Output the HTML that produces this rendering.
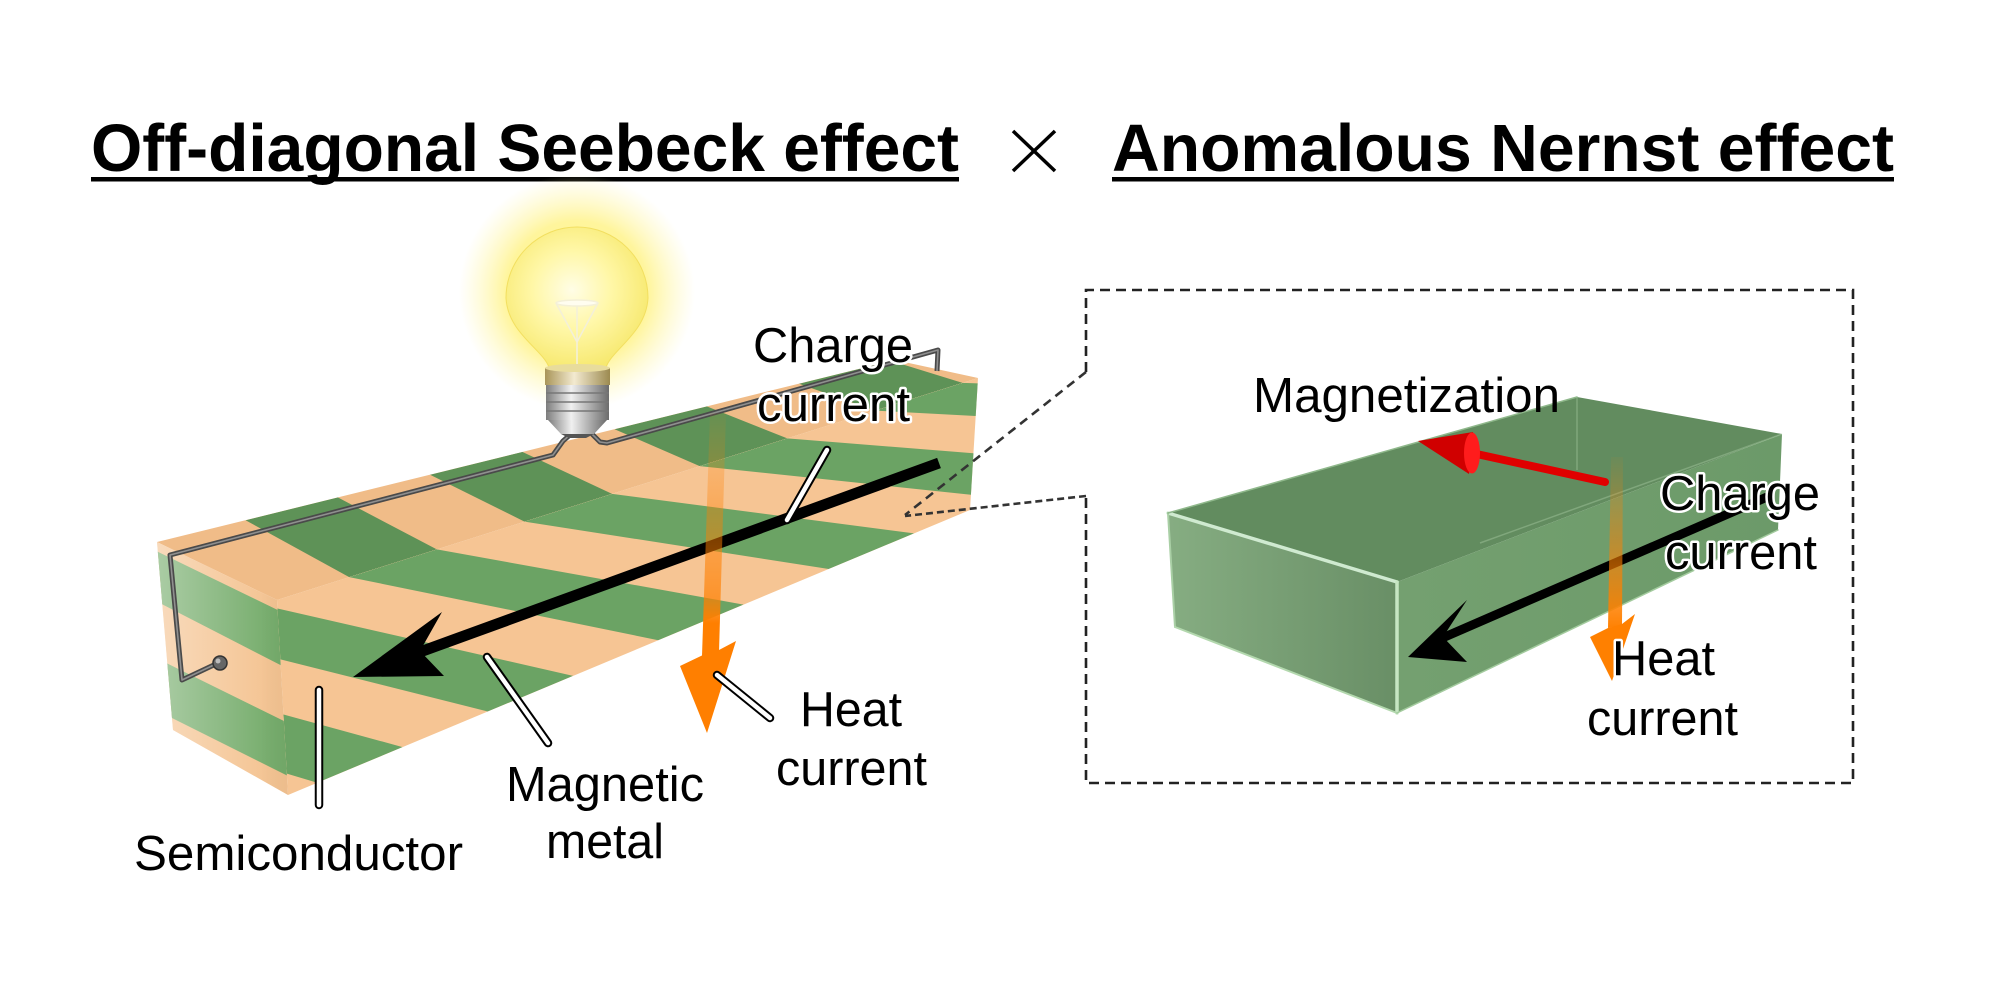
<!DOCTYPE html>
<html><head><meta charset="utf-8"><style>
html,body{margin:0;padding:0;background:#fff;}
body{width:2000px;height:1000px;overflow:hidden;}
svg{display:block;}
text{font-family:"Liberation Sans",Arial,sans-serif;fill:#000;}
.lbl{font-size:49px;}
.halo{paint-order:stroke;stroke:#fff;stroke-width:5px;stroke-linejoin:round;}
.ttl{font-size:67px;font-weight:bold;}
</style></head><body>
<svg width="2000" height="1000" viewBox="0 0 2000 1000" xmlns="http://www.w3.org/2000/svg">
<defs>
  <clipPath id="topc"><polygon points="157,542 895,360 978,378 277,600"/></clipPath>
  <clipPath id="frontc"><polygon points="277,600 978,378 970,510 288,795"/></clipPath>
  <clipPath id="endc"><polygon points="157,542 277,600 288,795 173,730"/></clipPath>
  <linearGradient id="endShade" gradientUnits="userSpaceOnUse" x1="160" y1="0" x2="285" y2="0">
    <stop offset="0" stop-color="#fff" stop-opacity="0.38"/>
    <stop offset="0.8" stop-color="#fff" stop-opacity="0.05"/>
    <stop offset="1" stop-color="#000" stop-opacity="0.03"/>
  </linearGradient>
  <radialGradient id="glow" cx="577" cy="292" r="118" gradientUnits="userSpaceOnUse">
    <stop offset="0" stop-color="#fff59a" stop-opacity="1"/>
    <stop offset="0.6" stop-color="#fff38a" stop-opacity="0.85"/>
    <stop offset="1" stop-color="#fff7b0" stop-opacity="0"/>
  </radialGradient>
  <radialGradient id="glass" cx="572" cy="290" r="80" gradientUnits="userSpaceOnUse">
    <stop offset="0" stop-color="#fffde6"/>
    <stop offset="0.5" stop-color="#fff7a6"/>
    <stop offset="1" stop-color="#f7e970"/>
  </radialGradient>
  <linearGradient id="gold" x1="0" y1="0" x2="1" y2="0">
    <stop offset="0" stop-color="#a99558"/>
    <stop offset="0.45" stop-color="#f3ead0"/>
    <stop offset="1" stop-color="#9c8a50"/>
  </linearGradient>
  <linearGradient id="silver" x1="0" y1="0" x2="1" y2="0">
    <stop offset="0" stop-color="#7d7d7d"/>
    <stop offset="0.4" stop-color="#f0f0f0"/>
    <stop offset="1" stop-color="#6c6c6c"/>
  </linearGradient>
  <linearGradient id="ogL" gradientUnits="userSpaceOnUse" x1="0" y1="413" x2="0" y2="660">
    <stop offset="0" stop-color="#ff7f00" stop-opacity="0.05"/>
    <stop offset="0.75" stop-color="#ff7f00" stop-opacity="0.7"/>
    <stop offset="0.85" stop-color="#ff7f00" stop-opacity="1"/>
    <stop offset="1" stop-color="#ff7f00" stop-opacity="1"/>
  </linearGradient>
  <linearGradient id="ogR" gradientUnits="userSpaceOnUse" x1="0" y1="457" x2="0" y2="630">
    <stop offset="0" stop-color="#ff8000" stop-opacity="0.05"/>
    <stop offset="0.7" stop-color="#ff8000" stop-opacity="0.7"/>
    <stop offset="1" stop-color="#ff8000" stop-opacity="1"/>
  </linearGradient>
  <linearGradient id="boxEnd" gradientUnits="userSpaceOnUse" x1="1168" y1="0" x2="1397" y2="0">
    <stop offset="0" stop-color="#86ad82"/>
    <stop offset="1" stop-color="#698f66"/>
  </linearGradient>
  <linearGradient id="boxSide" gradientUnits="userSpaceOnUse" x1="1397" y1="0" x2="1782" y2="0">
    <stop offset="0" stop-color="#74a070"/>
    <stop offset="1" stop-color="#6c9a69"/>
  </linearGradient>
</defs>

<!-- Title -->
<text class="ttl" x="91" y="171" textLength="868" lengthAdjust="spacingAndGlyphs">Off-diagonal Seebeck effect</text>
<rect x="91" y="177" width="868" height="4.5" fill="#000"/>
<line x1="1013" y1="131" x2="1055" y2="171" stroke="#000" stroke-width="3.5"/>
<line x1="1055" y1="131" x2="1013" y2="171" stroke="#000" stroke-width="3.5"/>
<text class="ttl" x="1112" y="171" textLength="782" lengthAdjust="spacingAndGlyphs">Anomalous Nernst effect</text>
<rect x="1112" y="177" width="782" height="4.5" fill="#000"/>

<!-- Bar: top face -->
<polygon points="157,542 895,360 978,378 277,600" fill="#f0bc88"/>
<g clip-path="url(#topc)" fill="#5e9257">
  <polygon points="245.6,520.2 337.8,497.4 436.8,549.4 349.2,577.1"/>
  <polygon points="430.1,474.7 522.3,451.9 612.1,493.9 524.5,521.6"/>
  <polygon points="614.6,429.2 706.8,406.4 787.3,438.4 699.7,466.1"/>
  <polygon points="799.1,383.7 891.3,360.9 962.6,382.9 875,410.6"/>
</g>
<!-- front face -->
<polygon points="277,600 978,378 970,510 288,795" fill="#f6c594"/>
<g clip-path="url(#frontc)" fill="#6ba364">
  <polygon points="-1.3,688.1 86.3,660.4 402.6,747.1 317.3,782.7"/>
  <polygon points="174,632.6 261.6,604.9 573.1,675.9 487.8,711.5"/>
  <polygon points="349.2,577.1 436.8,549.4 743.6,604.6 658.3,640.2"/>
  <polygon points="524.5,521.6 612.1,493.9 914.1,533.4 828.8,569"/>
  <polygon points="699.7,466.1 787.3,438.4 1084.6,462.1 999.3,497.7"/>
  <polygon points="875,410.6 962.6,382.9 1255.1,390.9 1169.8,426.5"/>
</g>
<!-- end face -->
<polygon points="157,542 277,600 288,795 173,730" fill="#f4c391"/>
<g clip-path="url(#endc)" fill="#75ac6b">
  <polygon points="150,548 290,616 292,671 150,598"/>
  <polygon points="150,655 290,724 292,778 150,707"/>
</g>
<polygon points="157,542 277,600 288,795 173,730" fill="url(#endShade)"/>

<!-- wire -->
<g fill="none" stroke-linejoin="round">
  <path d="M218,663 L182,680 L170,555 L553,455 L563,441 L571,434 M592,434 L600,442 L607,443 L913,357 L938,350 L937,371" stroke="#4a4a4a" stroke-width="5"/>
  <path d="M218,663 L182,680 L170,555 L553,455 L563,441 L571,434 M592,434 L600,442 L607,443 L913,357 L938,350 L937,371" stroke="#8f8f8f" stroke-width="1.6"/>
</g>
<circle cx="220" cy="663" r="7" fill="#666" stroke="#333" stroke-width="1.5"/>
<circle cx="218" cy="661" r="2.5" fill="#bbb"/>

<!-- bulb -->
<circle cx="577" cy="292" r="118" fill="url(#glow)"/>
<path d="M550,372 C549,352 508,336 506,298 A71,71 0 1 1 648,298 C646,336 606,352 605,372 Z" fill="url(#glass)" stroke="#f2df60" stroke-width="1"/>
<g stroke="#f4f0d8" stroke-width="1.6" fill="none">
  <ellipse cx="577" cy="303" rx="21" ry="3" fill="#fffdf0"/>
  <line x1="556" y1="303" x2="577" y2="342"/>
  <line x1="598" y1="303" x2="577" y2="342"/>
  <line x1="577" y1="306" x2="577" y2="370"/>
</g>
<rect x="545" y="368" width="65" height="17" fill="url(#gold)"/>
<ellipse cx="577.5" cy="368" rx="32.5" ry="4" fill="#e8dc9c"/>
<rect x="546" y="385" width="63" height="35" fill="url(#silver)"/>
<g stroke="#777" stroke-width="1.5">
  <line x1="546" y1="393" x2="609" y2="393"/>
  <line x1="546" y1="402" x2="609" y2="402"/>
  <line x1="546" y1="411" x2="609" y2="411"/>
</g>
<path d="M548,420 L607,420 L594,434 L561,434 Z" fill="url(#silver)"/>
<path d="M561,434 L594,434 L586,438 L569,438 Z" fill="#555"/>

<!-- black arrow left -->
<line x1="939" y1="463" x2="420" y2="652" stroke="#000" stroke-width="11"/>
<polygon points="353,677 442,612 420,651 444,676" fill="#000"/>

<!-- orange arrow left -->
<polygon points="710,413 726,413 719,652 702,656" fill="url(#ogL)"/>
<polygon points="680,666 703,655 719,650 736,641 707,733" fill="#ff7f00"/>

<!-- white pointers left -->
<g stroke-linecap="round">
  <line x1="827" y1="450" x2="787" y2="520" stroke="#000" stroke-width="8.5"/>
  <line x1="827" y1="450" x2="787" y2="520" stroke="#fff" stroke-width="4.5"/>
  <line x1="487" y1="657" x2="548" y2="743" stroke="#000" stroke-width="8.5"/>
  <line x1="487" y1="657" x2="548" y2="743" stroke="#fff" stroke-width="4.5"/>
  <line x1="319" y1="690" x2="319" y2="805" stroke="#000" stroke-width="8.5"/>
  <line x1="319" y1="690" x2="319" y2="805" stroke="#fff" stroke-width="4.5"/>
  <line x1="717" y1="675" x2="770" y2="718" stroke="#000" stroke-width="8.5"/>
  <line x1="717" y1="675" x2="770" y2="718" stroke="#fff" stroke-width="4.5"/>
</g>

<!-- left labels -->
<text class="lbl halo" x="753" y="362" textLength="160" lengthAdjust="spacingAndGlyphs">Charge</text>
<text class="lbl halo" x="757" y="421" textLength="153" lengthAdjust="spacingAndGlyphs">current</text>
<text class="lbl" x="800" y="726" textLength="102" lengthAdjust="spacingAndGlyphs">Heat</text>
<text class="lbl" x="776" y="785" textLength="151" lengthAdjust="spacingAndGlyphs">current</text>
<text class="lbl" x="506" y="801" textLength="198" lengthAdjust="spacingAndGlyphs">Magnetic</text>
<text class="lbl" x="546" y="858" textLength="118" lengthAdjust="spacingAndGlyphs">metal</text>
<text class="lbl" x="134" y="870" textLength="329" lengthAdjust="spacingAndGlyphs">Semiconductor</text>

<!-- dashed frame & connectors -->
<g fill="none" stroke="#222" stroke-width="2.6">
  <path d="M1086,372 L1086,290 L1853,290 L1853,783 L1086,783 L1086,495" stroke-dasharray="10 6"/>
  <path d="M1086,372 L905,515" stroke="#333" stroke-dasharray="9 6"/>
  <path d="M1086,496 L905,516" stroke="#333" stroke-dasharray="7 4"/>
</g>

<!-- right box -->
<polygon points="1168,513 1577,397 1782,434 1397,582" fill="#628c5f"/>
<polygon points="1397,582 1782,434 1778,530 1397,713" fill="url(#boxSide)"/>
<polygon points="1168,513 1397,582 1397,713 1175,627" fill="url(#boxEnd)"/>
<g fill="none" stroke-opacity="0.35" stroke="#b9dbb5" stroke-width="1.5">
  <line x1="1577" y1="397" x2="1577" y2="470"/>
  <line x1="1480" y1="543" x2="1782" y2="434"/>
</g>
<g fill="none" stroke-linecap="round">
  <line x1="1168" y1="513" x2="1397" y2="582" stroke="#cfead0" stroke-width="3.5"/>
  <line x1="1397" y1="582" x2="1397" y2="713" stroke="#c6e6c2" stroke-width="3.5"/>
  <line x1="1168" y1="513" x2="1175" y2="627" stroke="#a9cfa5" stroke-width="2"/>
  <line x1="1175" y1="627" x2="1397" y2="713" stroke="#b3d8ae" stroke-width="2"/>
  <line x1="1397" y1="713" x2="1778" y2="530" stroke="#a3cb9e" stroke-width="1.5"/>
  <line x1="1168" y1="513" x2="1577" y2="397" stroke="#8fb88b" stroke-width="1.5"/>
</g>

<!-- black arrow right -->
<line x1="1767" y1="497" x2="1440" y2="639" stroke="#000" stroke-width="9"/>
<polygon points="1408,657 1467,600 1443,637 1467,662" fill="#000"/>

<!-- red magnetization arrow -->
<line x1="1605" y1="482" x2="1472" y2="453" stroke="#e00000" stroke-width="8" stroke-linecap="round"/>
<polygon points="1418,441 1473,432 1469,474" fill="#d00000"/>
<ellipse cx="1472" cy="453" rx="8" ry="20.5" fill="#ff1c1c"/>

<!-- orange arrow right -->
<polygon points="1611,457 1623,457 1622,625 1608,628" fill="url(#ogR)"/>
<polygon points="1590,637 1608,628 1622,624 1635,614 1612,681" fill="#ff8000"/>

<!-- right labels -->
<text class="lbl" x="1253" y="412" textLength="307" lengthAdjust="spacingAndGlyphs">Magnetization</text>
<text class="lbl halo" x="1660" y="510" textLength="160" lengthAdjust="spacingAndGlyphs">Charge</text>
<text class="lbl halo" x="1665" y="569" textLength="152" lengthAdjust="spacingAndGlyphs">current</text>
<text class="lbl halo" x="1612" y="675" textLength="103" lengthAdjust="spacingAndGlyphs">Heat</text>
<text class="lbl" x="1587" y="735" textLength="151" lengthAdjust="spacingAndGlyphs">current</text>
</svg>
</body></html>
